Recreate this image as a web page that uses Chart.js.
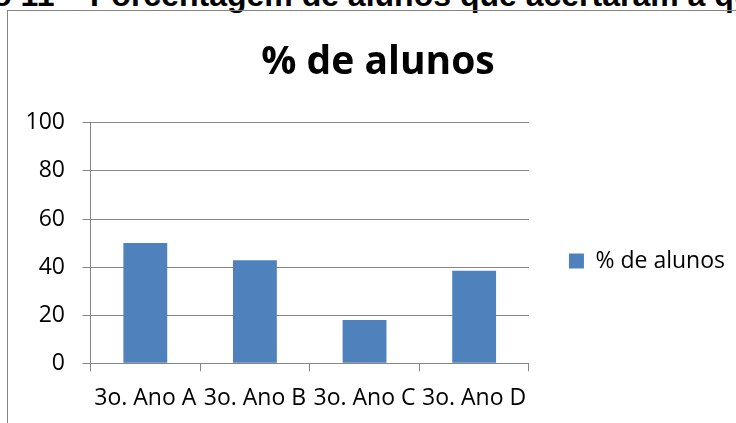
<!DOCTYPE html>
<html>
<head>
<meta charset="utf-8">
<script src="https://cdn.jsdelivr.net/npm/chart.js@4/dist/chart.umd.min.js"></script>
<style>
  html, body { margin: 0; padding: 0; width: 736px; height: 423px; overflow: hidden; background: #fff; position: relative; }
  #heading { position: absolute; left: 90px; top: -21px; font: bold 32px "Liberation Sans", Arial, sans-serif; line-height: 32px; white-space: nowrap; color: #000; }
  #heading .pre { position: absolute; right: 100%; top: 0; white-space: pre; }
  #frame { position: absolute; left: 7px; top: 10px; width: 900px; height: 600px; border: 1px solid #858585; box-sizing: border-box; }
  #c { position: absolute; left: -11px; top: 11px; }
</style>
</head>
<body>
<div id="heading"><span class="pre">Gráfico 11 – </span>Porcentagem de alunos que acertaram a questão</div>
<div id="frame"></div>
<canvas id="c" width="776" height="500"></canvas>
<script>
const categories = ["3o. Ano A", "3o. Ano B", "3o. Ano C", "3o. Ano D"];
const seriesName = "% de alunos";
const values = [50, 42.9, 18, 38.5];
const chartTitle = "% de alunos";
const yMin = 0, yMax = 100, yStep = 20;

const gridColor = '#868686';
const font = 'Open Sans';

// let the y tick labels use the space left of the axis box
const widenYLabelArea = {
  id: 'widenYLabelArea',
  afterLayout(chart) { chart.scales.y.left = 0; }
};

new Chart(document.getElementById('c'), {
  type: 'bar',
  data: {
    labels: categories,
    datasets: [{
      label: seriesName,
      data: values,
      backgroundColor: '#4F81BD',
      borderWidth: 0,
      barPercentage: 0.4,
      categoryPercentage: 1.0
    }]
  },
  plugins: [widenYLabelArea],
  options: {
    responsive: false,
    animation: false,
    devicePixelRatio: 1,
    layout: { padding: { left: 32, right: 30, top: 0, bottom: 0 } },
    plugins: {
      title: {
        display: true,
        text: chartTitle,
        color: '#000',
        font: { family: font, weight: 'bold', size: 39 },
        padding: { top: 28, bottom: 37 }
      },
      legend: {
        position: 'right',
        maxWidth: 400,
        labels: {
          boxWidth: 15,
          boxHeight: 15,
          color: '#000',
          font: { family: font, size: 23 },
          padding: 40
        }
      },
      tooltip: { enabled: false }
    },
    scales: {
      x: {
        afterFit: (s) => { s.height = 147.7; },
        grid: { display: true, offset: true, drawOnChartArea: false, drawTicks: true, tickLength: 8, color: gridColor },
        border: { display: true, color: gridColor },
        ticks: { color: '#000', font: { family: font, size: 23 }, padding: 13, maxRotation: 0, autoSkip: false }
      },
      y: {
        min: yMin, max: yMax,
        afterFit: (s) => { s.width = 69.5; },
        grid: { color: gridColor, drawTicks: true, tickLength: 8 },
        border: { display: true, color: gridColor },
        ticks: { stepSize: yStep, color: '#000', font: { family: font, size: 23 }, padding: 17.5 }
      }
    }
  }
});
</script>
</body>
</html>
